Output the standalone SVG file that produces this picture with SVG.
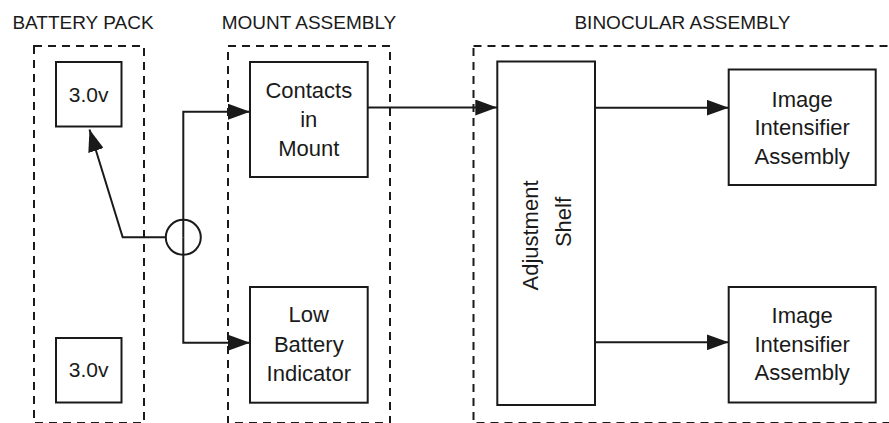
<svg xmlns="http://www.w3.org/2000/svg" width="889" height="423" viewBox="0 0 889 423">
<style>
  .hdr { font-family: "Liberation Sans", Arial, sans-serif; font-size: 19px; fill: #1a1a1a; text-anchor: middle; }
  .lbl { font-family: "Liberation Sans", Arial, sans-serif; font-size: 22px; fill: #1a1a1a; text-anchor: middle; }
  .box { fill: #ffffff; stroke: #1a1a1a; stroke-width: 2; }
  .grp { fill: none; stroke: #1a1a1a; stroke-width: 2; stroke-dasharray: 8 6; }
  .wire { fill: none; stroke: #1a1a1a; stroke-width: 2; }
</style>
<defs>
  <marker id="arr" markerUnits="userSpaceOnUse" markerWidth="22" markerHeight="16" refX="22" refY="8" orient="auto" viewBox="0 0 22 16">
    <path d="M0,0 L22,8 L0,16 z" fill="#1a1a1a"/>
  </marker>
</defs>
<rect width="889" height="423" fill="#ffffff"/>

<g id="group-battery">
  <rect class="grp" x="34" y="46" width="110" height="377"/>
  <text class="hdr" x="83" y="28.5">BATTERY PACK</text>
</g>
<g id="group-mount">
  <rect class="grp" x="228" y="46" width="162" height="377"/>
  <text class="hdr" x="309" y="28.5">MOUNT ASSEMBLY</text>
</g>
<g id="group-binocular">
  <rect class="grp" x="473.5" y="46" width="440" height="377"/>
  <text class="hdr" x="682.5" y="28.5">BINOCULAR ASSEMBLY</text>
</g>

<g id="connectors">
  <path class="wire" d="M183.3,237.3 V111.7 H250" marker-end="url(#arr)"/>
  <path class="wire" d="M183.3,237.3 V342.7 H250" marker-end="url(#arr)"/>
  <circle class="wire" cx="183.3" cy="237.3" r="17.5"/>
  <path class="wire" d="M165.8,237.3 H122.7 L89.5,129.5" marker-end="url(#arr)"/>
  <path class="wire" d="M367.7,107.5 H497.3" marker-end="url(#arr)"/>
  <path class="wire" d="M595,107.7 H728.7" marker-end="url(#arr)"/>
  <path class="wire" d="M595,342.3 H728.7" marker-end="url(#arr)"/>
</g>

<g id="battery-1">
  <rect class="box" x="56" y="62" width="65.5" height="64.5"/>
  <text class="lbl" x="88.7" y="101.7" style="font-size:21px">3.0v</text>
</g>
<g id="battery-2">
  <rect class="box" x="56" y="338" width="65.5" height="64.5"/>
  <text class="lbl" x="88.7" y="377" style="font-size:21px">3.0v</text>
</g>
<g id="contacts">
  <rect class="box" x="250" y="62" width="117.7" height="115"/>
  <text class="lbl" x="308.8" y="98">Contacts</text>
  <text class="lbl" x="308.8" y="127">in</text>
  <text class="lbl" x="308.8" y="155.5">Mount</text>
</g>
<g id="low-battery">
  <rect class="box" x="250" y="287" width="117.7" height="115.7"/>
  <text class="lbl" x="308.8" y="322">Low</text>
  <text class="lbl" x="308.8" y="351.5">Battery</text>
  <text class="lbl" x="308.8" y="380.5">Indicator</text>
</g>
<g id="adjustment-shelf">
  <rect class="box" x="497.3" y="61.5" width="97.7" height="343.5"/>
  <text class="lbl" transform="translate(538.3,235.5) rotate(-90)">Adjustment</text>
  <text class="lbl" transform="translate(571,222) rotate(-90)">Shelf</text>
</g>
<g id="intensifier-1">
  <rect class="box" x="728.7" y="69.5" width="147" height="115.5"/>
  <text class="lbl" x="802.2" y="106.5">Image</text>
  <text class="lbl" x="802.2" y="135">Intensifier</text>
  <text class="lbl" x="802.2" y="163.5">Assembly</text>
</g>
<g id="intensifier-2">
  <rect class="box" x="728.7" y="287" width="147" height="115.5"/>
  <text class="lbl" x="802.2" y="322.5">Image</text>
  <text class="lbl" x="802.2" y="351.5">Intensifier</text>
  <text class="lbl" x="802.2" y="380">Assembly</text>
</g>
</svg>
